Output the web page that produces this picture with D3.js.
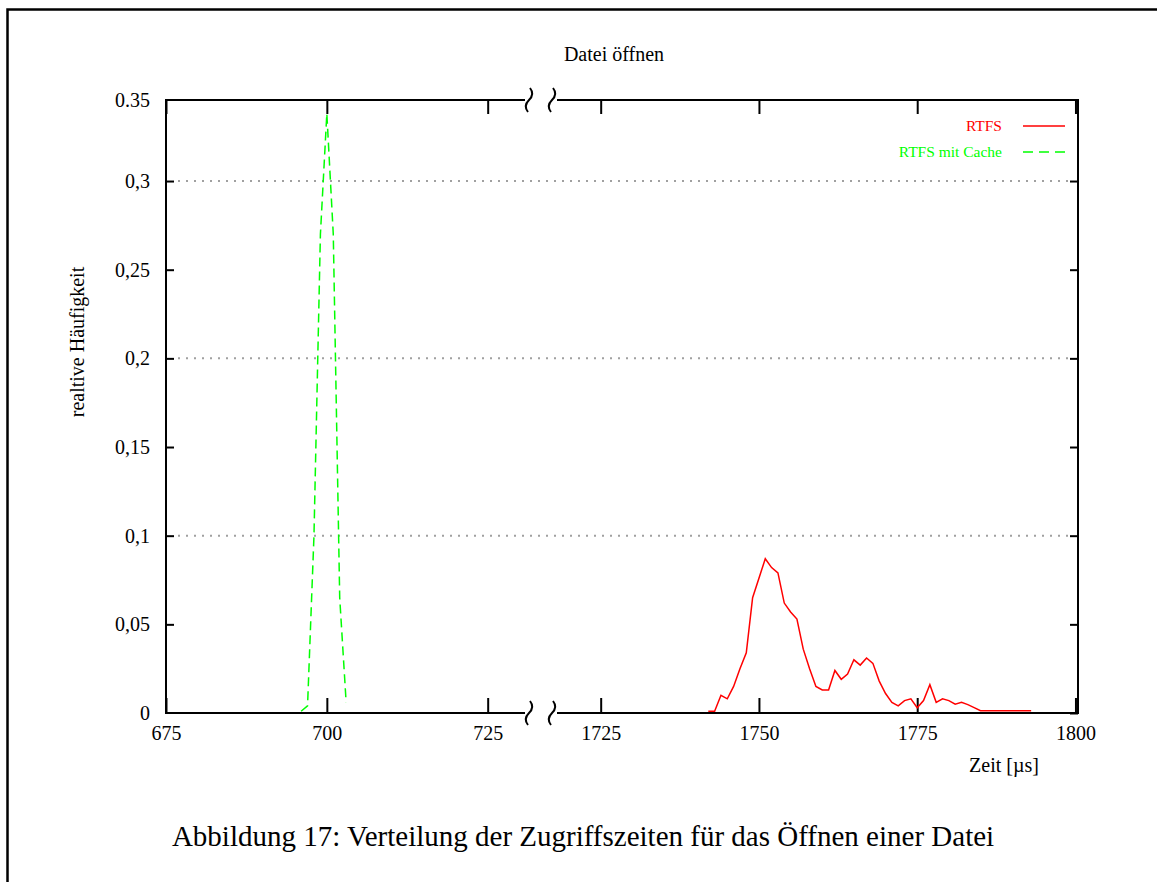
<!DOCTYPE html>
<html>
<head>
<meta charset="utf-8">
<script src="https://cdn.jsdelivr.net/npm/d3@7"></script>
<style>
  body { margin: 0; background: #fff; }
  svg text { font-family: "Liberation Serif", "Times New Roman", serif; }
</style>
</head>
<body>
<svg id="chart" width="1157" height="882"></svg>
<script>
// broken x axis: two segments joined by a polylinear scale
var segLeft = [675, 730.8];
var segRight = [1718.1, 1800.4];
var xTicks = [675, 700, 725, 1725, 1750, 1775, 1800];
var yTicks = [0, 0.05, 0.1, 0.15, 0.2, 0.25, 0.3];
var yTickLabels = ["0", "0,05", "0,1", "0,15", "0,2", "0,25", "0,3"];
var yTop = 0.3457, yTopLabel = "0.35";
var gridValues = [0.1, 0.2, 0.3];

// RTFS mit Cache (green, dashed)
var cacheX = [696, 697, 698, 699, 700, 701, 702, 703];
var cacheY = [0.001, 0.004, 0.1, 0.27, 0.338, 0.27, 0.065, 0.006];

// RTFS (red)
var rtfsX = [1742, 1743, 1744, 1745, 1746, 1747, 1748, 1749, 1750, 1751, 1752, 1753, 1754, 1755, 1756,
  1757, 1758, 1759, 1760, 1761, 1762, 1763, 1764, 1765, 1766, 1767, 1768, 1769, 1770, 1771, 1772, 1773,
  1774, 1775, 1776, 1777, 1778, 1779, 1780, 1781, 1782, 1783, 1784, 1785, 1786, 1787, 1788, 1789, 1790, 1791, 1792, 1793];
var rtfsY = [0.001, 0.001, 0.010, 0.008, 0.015, 0.025, 0.034, 0.065, 0.076, 0.087, 0.082, 0.079, 0.062, 0.057, 0.053,
  0.036, 0.025, 0.015, 0.013, 0.013, 0.024, 0.019, 0.022, 0.030, 0.027, 0.031, 0.028, 0.018, 0.011, 0.006, 0.004, 0.007,
  0.008, 0.003, 0.007, 0.016, 0.006, 0.008, 0.007, 0.005, 0.006, 0.0047, 0.003, 0.0013, 0.0013, 0.0013, 0.0013, 0.0013, 0.0013, 0.0013, 0.0013, 0.0013];

function drawChart() {
  var svg = d3.select("#chart");
  var pLeft = 166, pRight = 1078, pTop = 100, pBottom = 713;
  var gapL = 525, gapR = 557;

  var x = d3.scaleLinear()
    .domain([segLeft[0], segLeft[1], segRight[0], segRight[1]])
    .range([pLeft, gapL, gapR, pRight]);
  var y = d3.scaleLinear().domain([0, yTop]).range([pBottom, pTop]);

  // page frame (left and top edge only)
  svg.append("path")
    .attr("d", "M7.5,882 L7.5,9.5 L1157,9.5")
    .attr("fill", "none").attr("stroke", "#000").attr("stroke-width", 2.5);

  // grid
  svg.append("g").selectAll("line")
    .data(gridValues)
    .enter().append("line")
    .attr("x1", pLeft + 12).attr("x2", pRight - 9)
    .attr("y1", function(d) { return y(d); })
    .attr("y2", function(d) { return y(d); })
    .attr("stroke", "#a0a0a0").attr("stroke-width", 2)
    .attr("stroke-dasharray", "2,6");

  // axes
  var yAll = yTicks.concat([yTop]);
  var yLabels = yTickLabels.concat([yTopLabel]);

  var gLeft = svg.append("g").attr("transform", "translate(" + pLeft + ",0)")
    .call(d3.axisLeft(y).tickValues(yAll).tickSize(-8).tickPadding(16)
      .tickFormat(function(d, i) { return yLabels[i]; }));
  var gRight = svg.append("g").attr("transform", "translate(" + pRight + ",0)")
    .call(d3.axisRight(y).tickValues(yTicks).tickSize(-8).tickFormat(""));
  var gBottom = svg.append("g").attr("transform", "translate(0," + pBottom + ")")
    .call(d3.axisBottom(x).tickValues(xTicks).tickSize(-15).tickPadding(13)
      .tickFormat(d3.format("d")));
  var gTop = svg.append("g").attr("transform", "translate(0," + pTop + ")")
    .call(d3.axisTop(x).tickValues(xTicks).tickSize(-14).tickFormat(""));

  [gLeft, gRight, gBottom, gTop].forEach(function(g) {
    g.select(".domain").remove();
    g.selectAll(".tick line").attr("stroke", "#000").attr("stroke-width", 2);
    g.selectAll("text").attr("font-size", "20px").attr("fill", "#000")
      .style("font-family", "'Liberation Serif', 'Times New Roman', serif");
  });
  // no inner tick at the top-left corner label
  gLeft.selectAll(".tick line").filter(function(d) { return d === yTop || d === 0; }).remove();

  // frame lines with the break
  var frame = svg.append("g").attr("fill", "none").attr("stroke", "#000").attr("stroke-width", 2);
  frame.append("line").attr("x1", pLeft).attr("x2", pLeft).attr("y1", pTop).attr("y2", pBottom);
  frame.append("line").attr("x1", pRight).attr("x2", pRight).attr("y1", pTop).attr("y2", pBottom);
  [pTop, pBottom].forEach(function(yy) {
    frame.append("line").attr("x1", pLeft - 1).attr("x2", gapL).attr("y1", yy).attr("y2", yy);
    frame.append("line").attr("x1", gapR).attr("x2", pRight + 1).attr("y1", yy).attr("y2", yy);
    [gapL + 4, gapR - 5].forEach(function(xx) {
      frame.append("path")
        .attr("d", "M" + (xx + 1) + "," + (yy - 12) +
          " C" + (xx + 5) + "," + (yy - 7) + " " + (xx + 3) + "," + (yy - 3) + " " + xx + "," + yy +
          " C" + (xx - 3) + "," + (yy + 3) + " " + (xx - 5) + "," + (yy + 7) + " " + (xx - 1) + "," + (yy + 12))
        .attr("stroke-width", 2);
    });
  });

  // series
  var line = d3.line()
    .x(function(d) { return x(d[0]); })
    .y(function(d) { return y(d[1]); });

  svg.append("path")
    .datum(d3.zip(rtfsX, rtfsY))
    .attr("d", line)
    .attr("fill", "none").attr("stroke", "#ff0000").attr("stroke-width", 1.5);

  svg.append("path")
    .datum(d3.zip(cacheX, cacheY))
    .attr("d", line)
    .attr("fill", "none").attr("stroke", "#00ff00").attr("stroke-width", 1.5)
    .attr("stroke-dasharray", "9,5");

  // legend
  var legend = [
    { name: "RTFS", color: "#ff0000", dash: null },
    { name: "RTFS mit Cache", color: "#00ff00", dash: "10,6" }
  ];
  var lg = svg.append("g");
  legend.forEach(function(d, i) {
    var yy = 126 + i * 26;
    lg.append("text").attr("x", 1002).attr("y", yy + 5)
      .attr("text-anchor", "end").attr("font-size", "15.5px")
      .attr("fill", d.color).text(d.name);
    lg.append("line").attr("x1", 1023).attr("x2", 1065).attr("y1", yy).attr("y2", yy)
      .attr("stroke", d.color).attr("stroke-width", 1.5)
      .attr("stroke-dasharray", d.dash);
  });

  // titles
  svg.append("text").attr("x", 614).attr("y", 61).attr("text-anchor", "middle")
    .attr("font-size", "20px").text("Datei öffnen");
  svg.append("text").attr("transform", "translate(84,342) rotate(-90)")
    .attr("text-anchor", "middle").attr("font-size", "20px").text("realtive Häufigkeit");
  svg.append("text").attr("x", 1004).attr("y", 772).attr("text-anchor", "middle")
    .attr("font-size", "20px").text("Zeit [µs]");
  svg.append("text").attr("x", 583).attr("y", 846).attr("text-anchor", "middle")
    .attr("font-size", "29px").text("Abbildung 17: Verteilung der Zugriffszeiten für das Öffnen einer Datei");
}

drawChart();
</script>
</body>
</html>
